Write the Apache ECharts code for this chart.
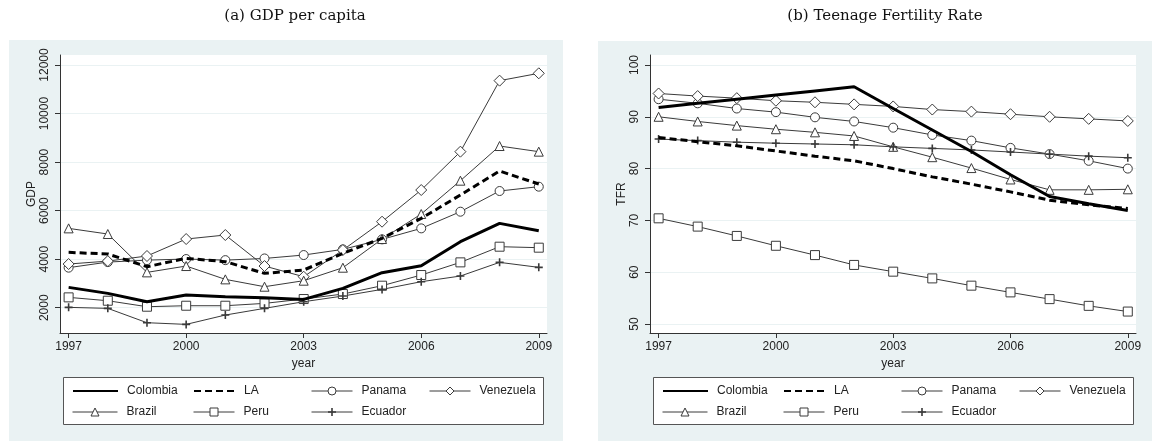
<!DOCTYPE html>
<html>
<head>
<meta charset="utf-8">
<script src="https://cdn.jsdelivr.net/npm/echarts@6/dist/echarts.min.js"></script>
<style>
html,body{margin:0;padding:0;background:#fff;}
#c{width:1160px;height:441px;}
</style>
</head>
<body>
<div id="c"></div>
<script>
// ---------- data ----------
var years = [1997, 1998, 1999, 2000, 2001, 2002, 2003, 2004, 2005, 2006, 2007, 2008, 2009];
var yearTicks = [1997, 2000, 2003, 2006, 2009];
var gdpTicks = [2000, 4000, 6000, 8000, 10000, 12000];
var tfrTicks = [50, 60, 70, 80, 90, 100];
var seriesNames = ['Colombia', 'LA', 'Panama', 'Venezuela', 'Brazil', 'Peru', 'Ecuador'];

var gdpColombia  = [2838, 2590, 2247, 2522, 2453, 2412, 2343, 2797, 3442, 3731, 4720, 5475, 5173];
var gdpLA        = [4280, 4212, 3690, 4033, 3896, 3415, 3552, 4239, 4857, 5681, 6643, 7632, 7096];
var gdpPanama    = [3650, 3880, 3960, 4005, 3960, 4030, 4170, 4404, 4816, 5269, 5956, 6808, 6987];
var gdpVenezuela = [3800, 3920, 4130, 4830, 4995, 3717, 3277, 4376, 5544, 6849, 8429, 11355, 11657];
var gdpBrazil    = [5269, 5036, 3456, 3717, 3168, 2865, 3113, 3648, 4830, 5860, 7234, 8662, 8429];
var gdpPeru      = [2426, 2288, 2041, 2082, 2082, 2178, 2357, 2563, 2907, 3346, 3868, 4514, 4473];
var gdpEcuador   = [2014, 1973, 1382, 1313, 1698, 1973, 2247, 2481, 2755, 3071, 3305, 3868, 3662];

var tfrColombia  = [91.8, 92.6, 93.4, 94.2, 95.0, 95.8, 91.6, 87.45, 83.3, 78.8, 74.6, 73.2, 71.9];
var tfrLA        = [86.0, 85.2, 84.4, 83.4, 82.4, 81.5, 80.0, 78.4, 77.0, 75.5, 73.9, 73.0, 72.3];
var tfrPanama    = [93.4, 92.6, 91.6, 90.9, 89.9, 89.1, 87.9, 86.5, 85.4, 84.0, 82.8, 81.5, 80.0];
var tfrVenezuela = [94.5, 94.0, 93.6, 93.1, 92.8, 92.4, 92.0, 91.4, 91.0, 90.5, 90.0, 89.6, 89.2];
var tfrBrazil    = [90.0, 89.1, 88.3, 87.6, 87.0, 86.3, 84.2, 82.2, 80.1, 77.9, 75.9, 75.9, 76.0];
var tfrPeru      = [70.4, 68.8, 67.0, 65.1, 63.3, 61.4, 60.1, 58.8, 57.4, 56.1, 54.8, 53.5, 52.4];
var tfrEcuador   = [85.7, 85.4, 85.1, 84.9, 84.75, 84.6, 84.2, 83.9, 83.6, 83.2, 82.8, 82.4, 82.1];

// ---------- styling ----------
var BG = '#eaf2f3';
var INK = '#222';
var THIN = '#3a3a3a';
var SANS = '"Liberation Sans", Arial, sans-serif';
var PLUS = 'path://M4,0h2v4h4v2h-4v4h-2v-4h-4v-2h4z';

var styles = {
  Colombia:  {lineStyle: {color: '#000', width: 3}, symbol: 'none'},
  LA:        {lineStyle: {color: '#000', width: 3, type: [7, 4]}, symbol: 'none'},
  Panama:    {lineStyle: {color: THIN, width: 1}, symbol: 'circle', symbolSize: 9, fill: '#fff'},
  Venezuela: {lineStyle: {color: THIN, width: 1}, symbol: 'diamond', symbolSize: 11, fill: '#fff'},
  Brazil:    {lineStyle: {color: THIN, width: 1}, symbol: 'triangle', symbolSize: 9, fill: '#fff'},
  Peru:      {lineStyle: {color: THIN, width: 1}, symbol: 'rect', symbolSize: 9, fill: '#fff'},
  Ecuador:   {lineStyle: {color: THIN, width: 1}, symbol: PLUS, symbolSize: 8, fill: THIN}
};

function pairs(vals) { return years.map(function (y, i) { return [y, vals[i]]; }); }

function makeSeries(name, vals, idx) {
  var st = styles[name];
  var isThick = (name === 'Colombia' || name === 'LA');
  var isPlus = (name === 'Ecuador');
  return {
    type: 'line', name: name, xAxisIndex: idx, yAxisIndex: idx,
    data: pairs(vals),
    symbol: st.symbol, symbolSize: st.symbolSize || 0,
    showSymbol: st.symbol !== 'none',
    lineStyle: st.lineStyle,
    itemStyle: isThick ? {color: '#000'} :
      {color: st.fill, borderColor: THIN, borderWidth: isPlus ? 0 : 1},
    emphasis: {disabled: true},
    silent: true,
    z: isThick ? 3 : 2
  };
}

function plain(v) { return String(v); }

function xAxis(idx) {
  return {
    type: 'value', gridIndex: idx, min: 1996.78, max: 2009.21,
    name: 'year', nameLocation: 'middle', nameGap: 24,
    nameTextStyle: {color: INK, fontFamily: SANS, fontSize: 12},
    axisLine: {show: true, lineStyle: {color: '#333', width: 1}},
    axisTick: {show: true, length: 5, customValues: yearTicks, lineStyle: {color: '#333'}},
    axisLabel: {customValues: yearTicks, formatter: plain, color: INK, fontFamily: SANS, fontSize: 12, margin: 8},
    splitLine: {show: false}
  };
}

function yAxis(idx, name, min, max, ticks) {
  return {
    type: 'value', gridIndex: idx, min: min, max: max,
    name: name, nameLocation: 'middle', nameGap: 20, nameRotate: 90,
    nameTextStyle: {color: INK, fontFamily: SANS, fontSize: 12},
    axisLine: {show: true, lineStyle: {color: '#333', width: 1}},
    axisTick: {show: true, length: 5, customValues: ticks, lineStyle: {color: '#333'}},
    axisLabel: {customValues: ticks, formatter: plain, rotate: 90, color: INK, fontFamily: SANS, fontSize: 12, margin: 9},
    splitLine: {show: true, lineStyle: {color: BG, width: 1}}
  };
}

// legend: one component per item so that columns align
var colX = [72, 193, 311, 429];
var legendPos = {
  Colombia: [0, 0], LA: [1, 0], Panama: [2, 0], Venezuela: [3, 0],
  Brazil: [0, 1], Peru: [1, 1], Ecuador: [2, 1]
};
var legends = [];
[0, 590].forEach(function (off) {
  seriesNames.forEach(function (n) {
    var p = legendPos[n];
    var thick = (n === 'Colombia' || n === 'LA');
    var lg = {
      data: [n], left: off + colX[p[0]], top: 385 + p[1] * 21,
      itemWidth: p[0] === 0 ? 45 : 41, itemHeight: 10, itemGap: 0, padding: 0,
      selectedMode: false,
      textStyle: {color: INK, fontFamily: SANS, fontSize: 12, padding: [0, 0, 0, 4]}
    };
    if (thick) {
      lg.itemStyle = {opacity: 0};
    } else {
      lg.lineStyle = {width: 1, color: THIN};
      lg.itemStyle = {borderWidth: n === 'Ecuador' ? 0 : 1, borderColor: THIN};
    }
    legends.push(lg);
  });
});

var series = [];
var gdpVals = [gdpColombia, gdpLA, gdpPanama, gdpVenezuela, gdpBrazil, gdpPeru, gdpEcuador];
var tfrVals = [tfrColombia, tfrLA, tfrPanama, tfrVenezuela, tfrBrazil, tfrPeru, tfrEcuador];
seriesNames.forEach(function (n, i) { series.push(makeSeries(n, gdpVals[i], 0)); });
seriesNames.forEach(function (n, i) { series.push(makeSeries(n, tfrVals[i], 1)); });

var titleStyle = {fontFamily: '"DejaVu Serif", serif', fontWeight: 'normal', fontSize: 15, color: '#111'};
var option = {
  animation: false,
  backgroundColor: '#fff',
  title: [
    {text: '(a) GDP per capita', left: 290, top: 4, textAlign: 'center', textStyle: titleStyle},
    {text: '(b) Teenage Fertility Rate', left: 880, top: 4, textAlign: 'center', textStyle: titleStyle}
  ],
  graphic: [
    {type: 'rect', z: -10, silent: true, shape: {x: 9, y: 40, width: 554, height: 401}, style: {fill: BG}},
    {type: 'rect', z: -10, silent: true, shape: {x: 598, y: 41, width: 554, height: 400}, style: {fill: BG}},
    {type: 'rect', z: 1, silent: true, shape: {x: 63.5, y: 377.5, width: 480, height: 47}, style: {fill: '#fff', stroke: '#555', lineWidth: 1}},
    {type: 'rect', z: 1, silent: true, shape: {x: 653.5, y: 377.5, width: 480, height: 47}, style: {fill: '#fff', stroke: '#555', lineWidth: 1}}
  ],
  grid: [
    {left: 60, top: 55, width: 487, height: 278, show: true, backgroundColor: '#fff', borderWidth: 0},
    {left: 650, top: 55, width: 486, height: 278, show: true, backgroundColor: '#fff', borderWidth: 0}
  ],
  xAxis: [xAxis(0), xAxis(1)],
  yAxis: [yAxis(0, 'GDP', 958, 12412, gdpTicks), yAxis(1, 'TFR', 48.26, 101.93, tfrTicks)],
  legend: legends,
  series: series
};

var chart = echarts.init(document.getElementById('c'), null, {renderer: 'canvas'});
chart.setOption(option);
</script>
</body>
</html>
